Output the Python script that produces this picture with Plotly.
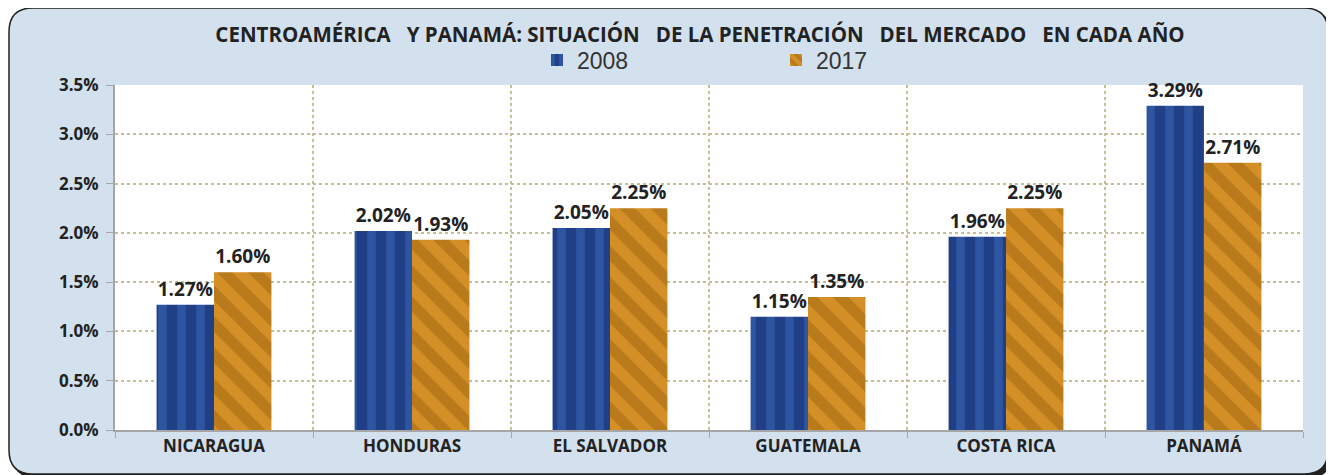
import plotly.graph_objects as go

categories = ["NICARAGUA", "HONDURAS", "EL SALVADOR", "GUATEMALA", "COSTA RICA", "PANAMÁ"]
values_2008 = [1.27, 2.02, 2.05, 1.15, 1.96, 3.29]
values_2017 = [1.60, 1.93, 2.25, 1.35, 2.25, 2.71]
y_ticks = [0.0, 0.5, 1.0, 1.5, 2.0, 2.5, 3.0, 3.5]
title_text = "CENTROAMÉRICA  Y PANAMÁ: SITUACIÓN  DE LA PENETRACIÓN  DEL MERCADO  EN CADA AÑO"

# figure pixel geometry (page body adds an 8px offset)
W, H = 1326, 467
L, R, T, B = 107, 1295, 77, 422


def px(x):
    return (x - L) / (R - L)


def py(y):
    return (B - y) / (B - T)


def rounded_rect(x0, y0, x1, y1, r):
    pts = [
        f"M {px(x0 + r)},{py(y0)}",
        f"L {px(x1 - r)},{py(y0)}",
        f"Q {px(x1)},{py(y0)} {px(x1)},{py(y0 + r)}",
        f"L {px(x1)},{py(y1 - r)}",
        f"Q {px(x1)},{py(y1)} {px(x1 - r)},{py(y1)}",
        f"L {px(x0 + r)},{py(y1)}",
        f"Q {px(x0)},{py(y1)} {px(x0)},{py(y1 - r)}",
        f"L {px(x0)},{py(y0 + r)}",
        f"Q {px(x0)},{py(y0)} {px(x0 + r)},{py(y0)}",
        "Z",
    ]
    return " ".join(pts)


label_font = dict(family="Open Sans", size=19, color="#222222")

fig = go.Figure()
fig.add_trace(go.Bar(
    name="2008", x=categories, y=values_2008,
    marker=dict(color="#213f86", line=dict(width=0),
                pattern=dict(shape="|", fgcolor="#3a6bbd", size=19, solidity=0.45, fillmode="overlay")),
    text=[f"<b>{v:.2f}%</b>" for v in values_2008], textposition="outside",
    textfont=label_font, cliponaxis=False,
))
fig.add_trace(go.Bar(
    name="2017", x=categories, y=values_2017,
    marker=dict(color="#b97a1c", line=dict(width=0),
                pattern=dict(shape="\\", fgcolor="#f2a431", size=22, solidity=0.5, fillmode="overlay")),
    text=[f"<b>{v:.2f}%</b>" for v in values_2017], textposition="outside",
    textfont=label_font, cliponaxis=False,
))

shapes = [
    dict(type="path", xref="paper", yref="paper", path=rounded_rect(4, 3, 1324, 470, 24),
         fillcolor="#222222", line=dict(width=0), layer="below"),
    dict(type="path", xref="paper", yref="paper", path=rounded_rect(1, 0, 1320, 466, 24),
         fillcolor="#d3e0ed", line=dict(color="#222222", width=1.5), layer="below"),
    dict(type="rect", xref="paper", yref="paper", x0=0, x1=1, y0=0, y1=1,
         fillcolor="white", line=dict(width=0), layer="below"),
]

fig.update_layout(
    width=W, height=H,
    margin=dict(l=L, r=W - R, t=T, b=H - B, pad=0),
    paper_bgcolor="white",
    plot_bgcolor="rgba(0,0,0,0)",
    shapes=shapes,
    barmode="group", bargap=0.42, bargroupgap=0,
    title=dict(text="<b>" + title_text.replace("  ", "\u00a0\u00a0 ") + "</b>", x=692 / W, xanchor="center",
               y=1 - 27 / H, yanchor="middle",
               font=dict(family="Open Sans", size=20.5, color="#222222")),
    legend=dict(orientation="h", x=px(529), xanchor="left", y=py(52), yanchor="middle",
                font=dict(family="Liberation Sans", size=23, color="#333333"),
                bgcolor="rgba(0,0,0,0)", entrywidth=194, entrywidthmode="pixels",
                itemsizing="constant"),
    font=dict(family="Open Sans", color="#222222"),
)

fig.update_xaxes(
    tickson="boundaries", showgrid=True, gridcolor="#c4bf95", griddash="dot", gridwidth=1.5,
    showline=True, linecolor="#a6a6a6", linewidth=2,
    ticks="outside", ticklen=6, tickcolor="#a6a6a6", tickwidth=1,
    tickfont=dict(family="Open Sans", size=17, color="#222222"),
    tickvals=categories, ticktext=[f"<b>{c}</b>" for c in categories],
)
fig.update_yaxes(
    range=[0, 3.5], tickvals=y_ticks, ticktext=[f"<b>{v:.1f}%</b>" for v in y_ticks],
    showgrid=True, gridcolor="#c4bf95", griddash="dot", gridwidth=1.5,
    showline=True, linecolor="#a6a6a6", linewidth=2, zeroline=False,
    ticks="outside", ticklen=7, tickcolor="#a6a6a6", tickwidth=1, ticklabelstandoff=4,
    tickfont=dict(family="Open Sans", size=17, color="#222222"),
)

fig.write_html("out.html")
